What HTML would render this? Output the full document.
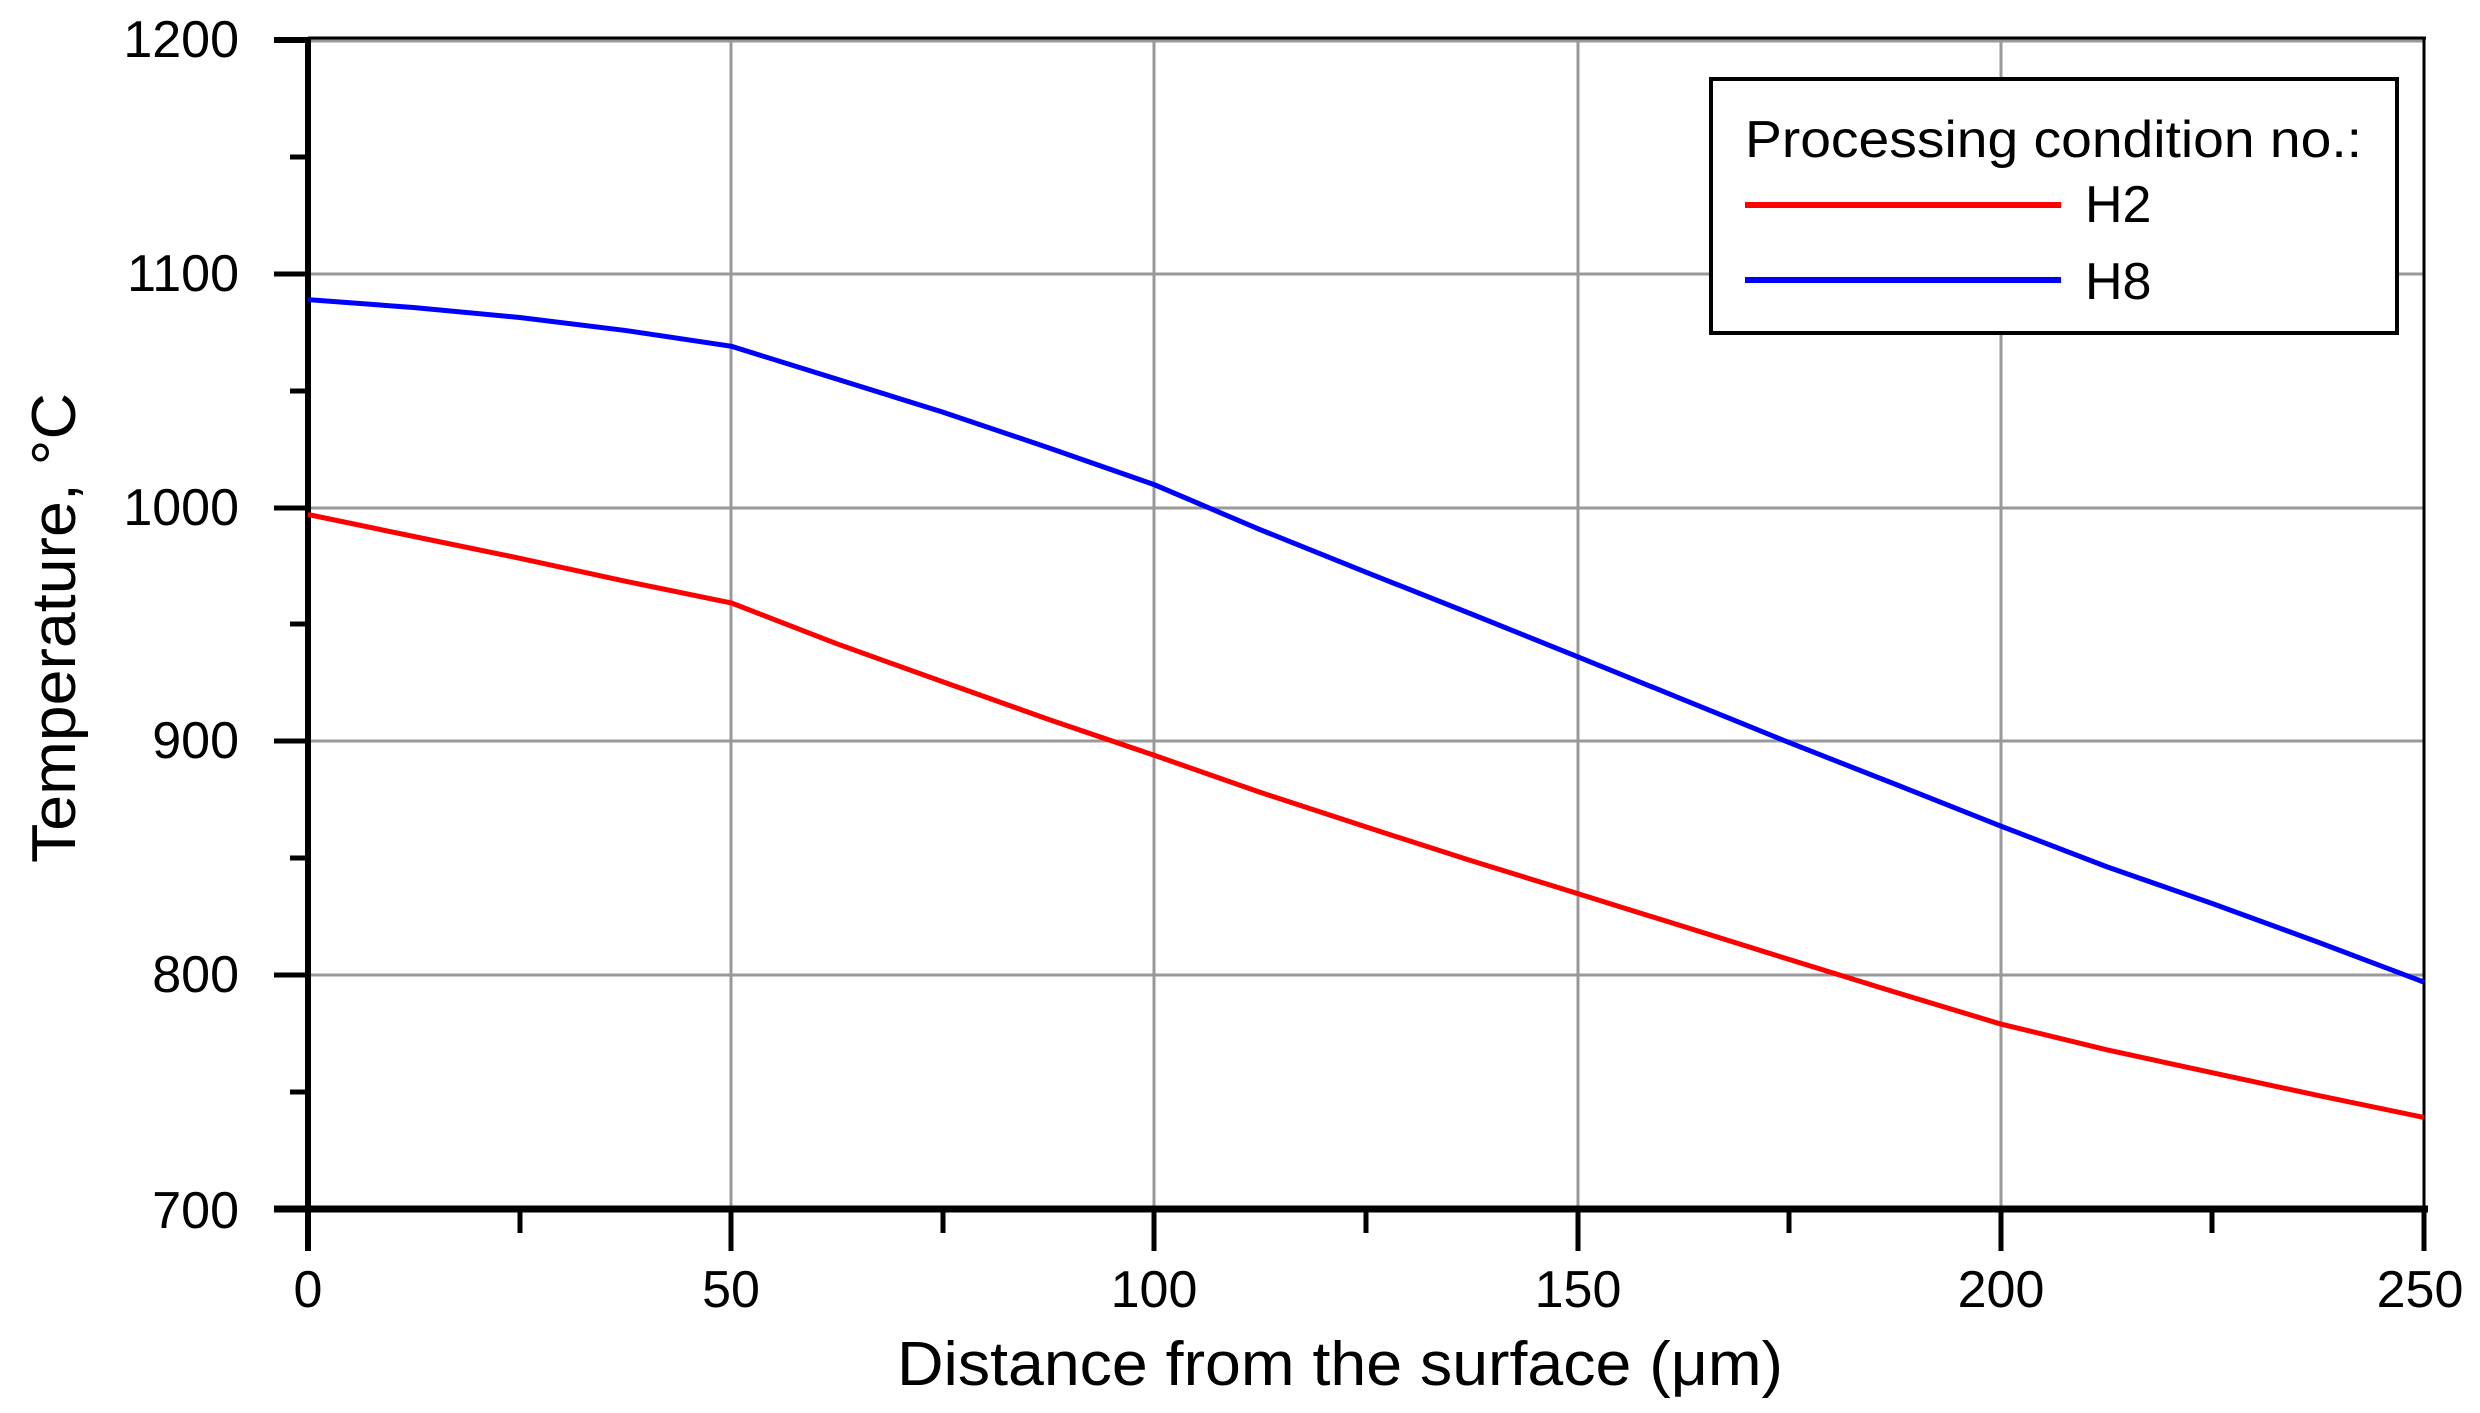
<!DOCTYPE html>
<html><head><meta charset="utf-8"><style>body{margin:0;background:#fff}</style></head>
<body>
<svg width="2480" height="1408" viewBox="0 0 2480 1408" xmlns="http://www.w3.org/2000/svg" font-family="Liberation Sans, Arial, sans-serif">
<rect width="2480" height="1408" fill="#fff"/>
<g stroke="#999" stroke-width="3">
<line x1="731" y1="40" x2="731" y2="1209"/><line x1="1154" y1="40" x2="1154" y2="1209"/>
<line x1="1578" y1="40" x2="1578" y2="1209"/><line x1="2001" y1="40" x2="2001" y2="1209"/>
<line x1="308" y1="41" x2="2424" y2="41"/>
<line x1="308" y1="274" x2="2424" y2="274"/><line x1="308" y1="508" x2="2424" y2="508"/>
<line x1="308" y1="741" x2="2424" y2="741"/><line x1="308" y1="975" x2="2424" y2="975"/>
</g>
<g stroke="#000">
<line x1="308" y1="38" x2="2426" y2="38" stroke-width="3"/>
<line x1="2424" y1="37" x2="2424" y2="1209" stroke-width="3"/>
<line x1="274" y1="40" x2="308" y2="40" stroke-width="6"/>
<line x1="308" y1="38" x2="308" y2="1251" stroke-width="6"/>
<line x1="274" y1="1209" x2="2428" y2="1209" stroke-width="7"/>
<g stroke-width="5">
<line x1="274" y1="274" x2="308" y2="274"/><line x1="274" y1="508" x2="308" y2="508"/>
<line x1="274" y1="741" x2="308" y2="741"/><line x1="274" y1="975" x2="308" y2="975"/>
<line x1="290" y1="157" x2="308" y2="157"/><line x1="290" y1="391" x2="308" y2="391"/>
<line x1="290" y1="624" x2="308" y2="624"/><line x1="290" y1="858" x2="308" y2="858"/>
<line x1="290" y1="1092" x2="308" y2="1092"/>
<line x1="731" y1="1209" x2="731" y2="1251"/><line x1="1154" y1="1209" x2="1154" y2="1251"/>
<line x1="1578" y1="1209" x2="1578" y2="1251"/><line x1="2001" y1="1209" x2="2001" y2="1251"/>
<line x1="2424" y1="1209" x2="2424" y2="1251"/>
<line x1="520" y1="1209" x2="520" y2="1233"/><line x1="943" y1="1209" x2="943" y2="1233"/>
<line x1="1366" y1="1209" x2="1366" y2="1233"/><line x1="1789" y1="1209" x2="1789" y2="1233"/>
<line x1="2212" y1="1209" x2="2212" y2="1233"/>
</g></g>
<g transform="matrix(0.99436 0 0 0.995 1.737 1.07)">
<polyline fill="none" stroke="#0000ff" stroke-width="5" vector-effect="non-scaling-stroke" points="308,300 414,308 521,318 627,331 734,347 840,380 946,413 1053,449 1159,486 1265,531 1372,574 1478,616 1585,659 1691,702 1797,745 1904,787 2010,829 2117,870 2223,907 2330,946 2436,986"/>
<polyline fill="none" stroke="#ff0000" stroke-width="5" vector-effect="non-scaling-stroke" points="308,516 414,538 521,560 627,583 734,605 840,646 946,684 1053,722 1159,758 1265,795 1372,830 1478,864 1585,897 1691,930 1797,963 1904,996 2010,1028 2117,1054 2223,1077 2330,1100 2436,1122"/>
</g>
<g font-size="52" fill="#000" text-anchor="end">
<text x="239" y="57">1200</text><text x="239" y="291">1100</text><text x="239" y="525">1000</text>
<text x="239" y="758">900</text><text x="239" y="992">800</text><text x="239" y="1228">700</text>
</g>
<g font-size="52" fill="#000" text-anchor="middle">
<text x="308" y="1307">0</text><text x="731" y="1307">50</text><text x="1154" y="1307">100</text>
<text x="1578" y="1307">150</text><text x="2001" y="1307">200</text><text x="2420" y="1307">250</text>
</g>
<text x="1340" y="1385" font-size="62" text-anchor="middle" textLength="886" lengthAdjust="spacingAndGlyphs">Distance from the surface (μm)</text>
<text transform="translate(75,628) rotate(-90)" font-size="62" text-anchor="middle" textLength="470" lengthAdjust="spacingAndGlyphs">Temperature, °C</text>
<rect x="1711" y="79" width="686" height="254" fill="#fff" stroke="#000" stroke-width="4"/>
<text x="1745" y="157" font-size="52" textLength="617" lengthAdjust="spacingAndGlyphs">Processing condition no.:</text>
<line x1="1745" y1="205" x2="2061" y2="205" stroke="#ff0000" stroke-width="6"/>
<line x1="1745" y1="280" x2="2061" y2="280" stroke="#0000ff" stroke-width="6"/>
<text x="2085" y="222" font-size="52">H2</text>
<text x="2085" y="299" font-size="52">H8</text>
</svg>
</body></html>
